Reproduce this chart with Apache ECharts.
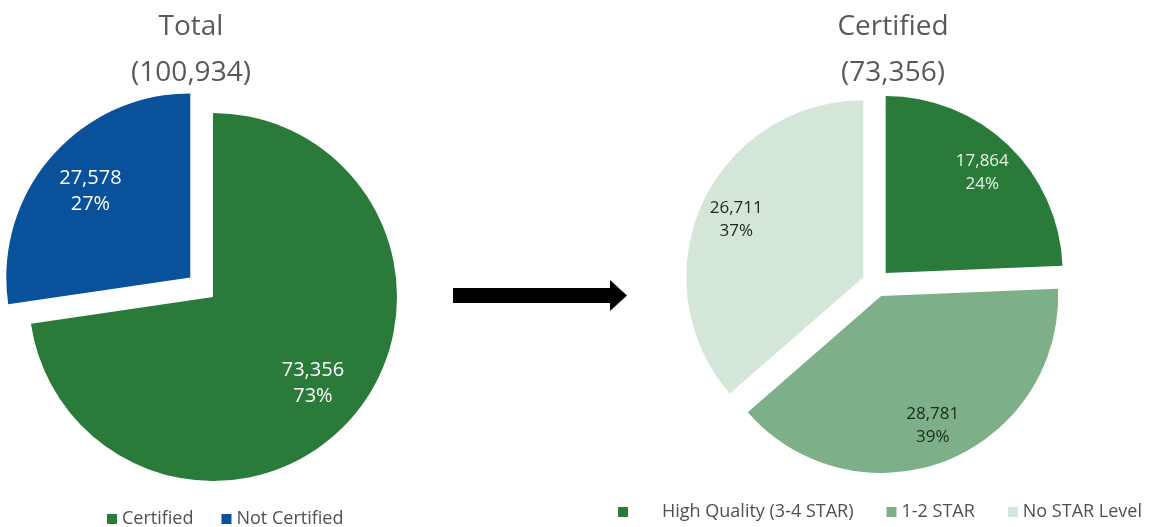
<!DOCTYPE html>
<html><head><meta charset="utf-8">
<script src="https://cdn.jsdelivr.net/npm/echarts@6/dist/echarts.min.js"></script>
<style>html,body{margin:0;padding:0;background:#fff}#c{width:1154px;height:527px}</style>
</head><body><div id="c"></div>
<script>
const totalCategories = ['Certified', 'Not Certified'];
const totalValues = [73356, 27578];
const totalColors = ['#2a7b3a', '#0a519c'];
const totalLabelColors = ['#ffffff', '#ffffff'];
const totalTitle = ['Total', '(100,934)'];

const certCategories = ['High Quality (3-4 STAR)', '1-2 STAR', 'No STAR Level'];
const certValues = [17864, 28781, 26711];
const certColors = ['#2a7b3a', '#7daf89', '#d3e6d7'];
const certLabelColors = ['#e8f4e6', '#1c2a1e', '#1f2621'];
const certTitle = ['Certified', '(73,356)'];

const FONT = '"Open Sans", sans-serif';
const fmt = p => p.value.toLocaleString('en-US') + '\n' + p.percent + '%';

function pieData(names, values, colors, labelColors, selected) {
  return names.map((n, i) => ({
    name: n, value: values[i], selected: selected(i),
    itemStyle: { color: colors[i] },
    label: { color: labelColors[i] }
  }));
}

const chart = echarts.init(document.getElementById('c'), null, { renderer: 'canvas' });
const base = { type: 'pie', startAngle: 90, clockwise: true, selectedMode: 'multiple', percentPrecision: 0, animation: false, emphasis: { disabled: true }, labelLine: { show: false } };
const titleStyle = { fontFamily: FONT, fontSize: 28, lineHeight: 46, fontWeight: 'normal', color: '#595959' };

chart.setOption({
  backgroundColor: '#ffffff',
  animation: false,
  title: [
    { text: totalTitle.join('\n'), left: 186, top: -1, textAlign: 'center', textStyle: titleStyle },
    { text: certTitle.join('\n'), left: 888, top: -1, textAlign: 'center', textStyle: titleStyle }
  ],
  legend: [
    { data: totalCategories, left: 102, top: 505, icon: 'rect', itemWidth: 10, itemHeight: 10, itemGap: 28,
      textStyle: { fontFamily: FONT, fontSize: 18, color: '#505050' } },
    { data: certCategories, left: 613, top: 498, icon: 'rect', itemWidth: 10, itemHeight: 10, itemGap: 33,
      formatter: n => n === certCategories[0] ? '{pad|}' + n : n,
      textStyle: { fontFamily: FONT, fontSize: 18, color: '#505050', rich: { pad: { width: 29 } } } }
  ],
  graphic: [
    { type: 'polygon', shape: { points: [[453, 288], [610, 288], [610, 280], [627, 295.5], [610, 311], [610, 303], [453, 303]] }, style: { fill: '#000' } }
  ],
  series: [
    Object.assign({}, base, { name: 'total', center: [213, 297], radius: 184, selectedOffset: 30,
      label: { show: false },
      data: pieData(totalCategories, totalValues, totalColors, totalLabelColors, i => i === 1) }),
    Object.assign({}, base, { name: 'totalLabels', center: [213, 297], radius: [74, 184], selectedOffset: 30, silent: true,
      label: { show: true, position: 'inside', formatter: fmt, fontFamily: FONT, fontSize: 20, lineHeight: 26 },
      data: pieData(totalCategories, totalValues, totalColors.map(() => 'rgba(0,0,0,0)'), totalLabelColors, i => i === 1) }),
    Object.assign({}, base, { name: 'cert', center: [876, 283], radius: 177, selectedOffset: 14,
      label: { show: false },
      data: pieData(certCategories, certValues, certColors, certLabelColors, () => true) }),
    Object.assign({}, base, { name: 'certLabels', center: [876, 283], radius: [96, 177], selectedOffset: 14, silent: true,
      label: { show: true, position: 'inside', formatter: fmt, fontFamily: FONT, fontSize: 17, lineHeight: 23 },
      data: pieData(certCategories, certValues, certColors.map(() => 'rgba(0,0,0,0)'), certLabelColors, () => true) })
  ]
});
</script></body></html>
